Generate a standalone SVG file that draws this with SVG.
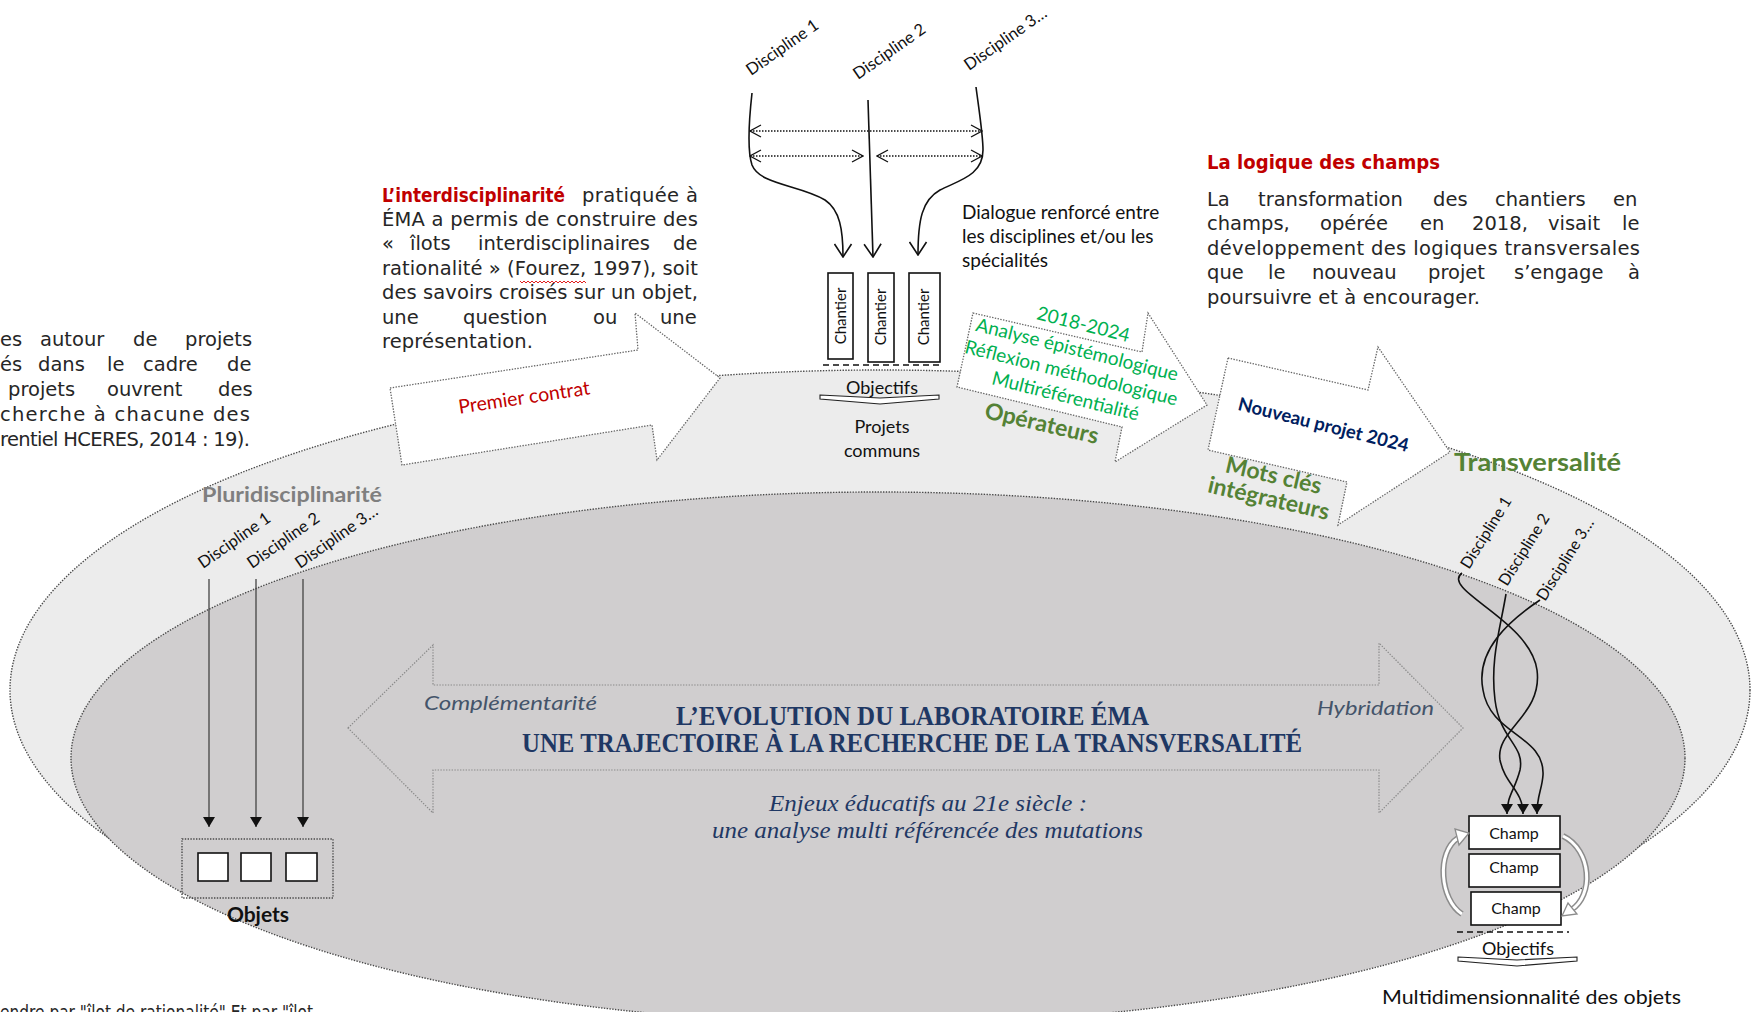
<svg xmlns="http://www.w3.org/2000/svg" width="1757" height="1012" viewBox="0 0 1757 1012">
<defs>
<style>
.dot{fill:none;stroke:#4a4a4a;stroke-width:1.4;stroke-dasharray:1.4 1.4}
.dotl{fill:none;stroke:#8a8a8a;stroke-width:1.2;stroke-dasharray:1.4 1.4}
.para{font-family:"DejaVu Sans","Liberation Sans",sans-serif;font-size:19.5px;fill:#262626}
.parab{font-family:"DejaVu Sans","Liberation Sans",sans-serif;font-size:19px;font-weight:bold;fill:#c00000}
.cal{font-family:Lato,"Open Sans",sans-serif;fill:#111}
.box{fill:#fff;stroke:#111;stroke-width:1.6}
.ln{fill:none;stroke:#111;stroke-width:1.6}
.lng{fill:none;stroke:#444;stroke-width:1.3}
.dash{fill:none;stroke:#111;stroke-width:1.6;stroke-dasharray:6 4}
.green{font-family:Lato,"Open Sans",sans-serif;font-size:19px;fill:#00b050}
.olive{font-family:Lato,"Open Sans",sans-serif;font-weight:bold;fill:#548235}
.serif{font-family:"Liberation Serif","Times New Roman",serif;fill:#1f3864}
.slate{font-family:Lato,"Open Sans",sans-serif;font-style:italic;font-size:20px;fill:#44546a}
.blk{fill:#fff;stroke:#666;stroke-width:1.3;stroke-dasharray:1.4 1.4}
.chev{fill:#fff;stroke:#222;stroke-width:1.1}
.hollow{fill:none;stroke:#8c8c8c;stroke-width:6}
.hollowin{fill:none;stroke:#fff;stroke-width:3}
</style>
<marker id="tri" viewBox="0 0 10 12" refX="10" refY="6" markerWidth="10" markerHeight="12" orient="auto" markerUnits="userSpaceOnUse">
<path d="M0,0 L10,6 L0,12z" fill="#111"/>
</marker>
<marker id="vee" viewBox="-1 -1 15 19" refX="13" refY="8.5" markerWidth="15" markerHeight="19" orient="auto" markerUnits="userSpaceOnUse">
<path d="M0,0 L13,8.5 L0,17" fill="none" stroke="#111" stroke-width="1.6"/>
</marker>
<marker id="veeS" viewBox="-1 -1 13 14" refX="11" refY="6" markerWidth="13" markerHeight="14" orient="auto-start-reverse" markerUnits="userSpaceOnUse">
<path d="M0,0 L11,6 L0,12" fill="none" stroke="#111" stroke-width="1.3"/>
</marker>
</defs>

<rect width="1757" height="1012" fill="#fff"/>

<!-- fields -->
<g id="outer-field">
<ellipse cx="880" cy="690" rx="870" ry="320" class="dot" style="fill:#ececec"/>
</g>
<g id="inner-field">
<ellipse cx="878" cy="758" rx="807" ry="266" class="dot" style="fill:#d0cecf"/>
</g>

<!-- left paragraph (cut at the page edge) -->
<g id="para-left" class="para">
<text y="346"><tspan x="0">es</tspan><tspan x="40">autour</tspan><tspan x="133">de</tspan><tspan x="185">projets</tspan></text>
<text y="371"><tspan x="0">és</tspan><tspan x="38">dans</tspan><tspan x="107">le</tspan><tspan x="143">cadre</tspan><tspan x="227">de</tspan></text>
<text y="396"><tspan x="8">projets</tspan><tspan x="107">ouvrent</tspan><tspan x="218">des</tspan></text>
<text x="0" y="421" textLength="250" lengthAdjust="spacing">cherche à chacune des</text>
<text x="0" y="446" textLength="250" lengthAdjust="spacing">rentiel HCERES, 2014 : 19).</text>
</g>

<!-- interdisciplinarity paragraph -->
<g id="para-inter" class="para">
<text x="382" y="202" class="parab" textLength="183" lengthAdjust="spacingAndGlyphs">L’interdisciplinarité</text>
<text x="582" y="202" textLength="116" lengthAdjust="spacing">pratiquée à</text>
<text x="382" y="226" textLength="316" lengthAdjust="spacing">ÉMA a permis de construire des</text>
<text y="250"><tspan x="382">«</tspan><tspan x="410">îlots</tspan><tspan x="478">interdisciplinaires</tspan><tspan x="673">de</tspan></text>
<text x="382" y="275" textLength="316" lengthAdjust="spacing">rationalité » (Fourez, 1997), soit</text>
<text x="382" y="299" textLength="316" lengthAdjust="spacing">des savoirs croisés sur un objet,</text>
<text y="324"><tspan x="382">une</tspan><tspan x="463">question</tspan><tspan x="593">ou</tspan><tspan x="660">une</tspan></text>
<text x="382" y="348" textLength="151" lengthAdjust="spacing">représentation.</text>
<polyline points="520,281 522,283 524,281 526,283 528,281 530,283 532,281 534,283 536,281 538,283 540,281 542,283 544,281 546,283 548,281 550,283 552,281 554,283 556,281 558,283 560,281 562,283 564,281 566,283 568,281 570,283 572,281 574,283 576,281 578,283 580,281 582,283 584,281 586,283" fill="none" stroke="#e02020" stroke-width="1"/>
</g>

<!-- field logic paragraph -->
<g id="para-champs" class="para">
<text x="1207" y="169" class="parab" textLength="233" lengthAdjust="spacingAndGlyphs">La logique des champs</text>
<text y="206"><tspan x="1207">La</tspan><tspan x="1258">transformation</tspan><tspan x="1433">des</tspan><tspan x="1495">chantiers</tspan><tspan x="1613">en</tspan></text>
<text y="230"><tspan x="1207">champs,</tspan><tspan x="1320">opérée</tspan><tspan x="1420">en</tspan><tspan x="1472">2018,</tspan><tspan x="1548">visait</tspan><tspan x="1622">le</tspan></text>
<text x="1207" y="255" textLength="433" lengthAdjust="spacing">développement des logiques transversales</text>
<text y="279"><tspan x="1207">que</tspan><tspan x="1268">le</tspan><tspan x="1312">nouveau</tspan><tspan x="1428">projet</tspan><tspan x="1514">s’engage</tspan><tspan x="1628">à</tspan></text>
<text x="1207" y="304" textLength="273" lengthAdjust="spacing">poursuivre et à encourager.</text>
</g>

<!-- block arrows -->
<g id="arrow-premier">
<polygon class="blk" points="390,388 638,350 635,313 720,378 657,460 652,425 402,465"/>
<text class="cal" font-size="19.5" style="fill:#c00000" text-anchor="middle" transform="translate(525,404) rotate(-8.5)">Premier contrat</text>
</g>
<g id="arrow-operateurs">
<polygon class="blk" points="973,313 1142,352 1148,313 1207,405 1115,462 1122,427 957,387"/>
<g transform="translate(1077,350) rotate(14)" text-anchor="middle" class="green">
<text y="-20">2018-2024</text>
<text y="6">Analyse épistémologique</text>
<text y="30">Réflexion méthodologique</text>
<text y="54">Multiréférentialité</text>
</g>
<text class="olive" font-size="23" text-anchor="middle" transform="translate(1040,431) rotate(13)">Opérateurs</text>
</g>
<g id="arrow-nouveau">
<polygon class="blk" points="1228,358 1368,390 1378,347 1450,452 1338,525 1347,482 1208,450"/>
<text font-family="Lato, 'Open Sans', sans-serif" font-weight="bold" font-size="18.5" fill="#002060" text-anchor="middle" transform="translate(1322,431) rotate(14)">Nouveau projet 2024</text>
<text class="olive" font-size="23" text-anchor="middle" transform="translate(1272,483) rotate(13)">Mots clés</text>
<text class="olive" font-size="23" text-anchor="middle" transform="translate(1267,506) rotate(13)">intégrateurs</text>
</g>

<!-- top: disciplines feeding the chantiers -->
<g id="disc-top" class="cal" font-size="16.5">
<text transform="translate(751,76) rotate(-35)">Discipline 1</text>
<text transform="translate(858,80) rotate(-35)">Discipline 2</text>
<text transform="translate(969,71) rotate(-35)">Discipline 3…</text>
</g>
<g id="chantiers">
<rect class="box" x="828" y="273" width="25" height="86"/>
<rect class="box" x="868" y="273" width="26" height="89"/>
<rect class="box" x="909" y="273" width="31" height="89"/>
<g class="cal" font-size="15" text-anchor="middle">
<text transform="translate(846,316) rotate(-90)">Chantier</text>
<text transform="translate(886,317) rotate(-90)">Chantier</text>
<text transform="translate(929,317) rotate(-90)">Chantier</text>
</g>
<line class="dash" x1="823" y1="365" x2="940" y2="365"/>
</g>
<g id="objectifs-top" class="cal" font-size="18" text-anchor="middle">
<text x="882" y="394">Objectifs</text>
<polygon class="chev" points="820,395 880,398 939,395 939,399 880,404 820,399"/>
<text x="882" y="433">Projets</text>
<text x="882" y="457">communs</text>
</g>
<g id="dialogue" class="cal" font-size="19">
<text x="962" y="219">Dialogue renforcé entre</text>
<text x="962" y="243">les disciplines et/ou les</text>
<text x="962" y="267">spécialités</text>
</g>

<!-- left: pluridisciplinarity -->
<g id="pluri">
<text font-family="Lato, 'Open Sans', sans-serif" font-weight="bold" font-size="21" fill="#7f7f7f" x="202" y="502" textLength="180" lengthAdjust="spacingAndGlyphs">Pluridisciplinarité</text>
<g class="cal" font-size="16.5">
<text transform="translate(203,569) rotate(-35)">Discipline 1</text>
<text transform="translate(252,569) rotate(-35)">Discipline 2</text>
<text transform="translate(300,569) rotate(-35)">Discipline 3…</text>
</g>
</g>
<g id="objets">
<rect x="182" y="839" width="151" height="59" class="dot"/>
<rect class="box" x="198" y="853" width="30" height="28"/>
<rect class="box" x="241" y="853" width="30" height="28"/>
<rect class="box" x="286" y="853" width="31" height="28"/>
<text class="cal" font-size="21" font-weight="bold" text-anchor="middle" x="258" y="922">Objets</text>
</g>

<!-- centre: double arrow and title -->
<g id="central-arrow">
<polygon class="dotl" points="348,728 433,645 433,685 1379,685 1379,643 1463,728 1379,813 1379,770 433,770 433,813"/>
<text class="slate" x="424" y="710" textLength="173" lengthAdjust="spacingAndGlyphs">Complémentarité</text>
<text class="slate" x="1317" y="715" textLength="117" lengthAdjust="spacingAndGlyphs">Hybridation</text>
</g>
<g id="title" class="serif" font-weight="bold" font-size="27">
<text x="676" y="725" textLength="473" lengthAdjust="spacingAndGlyphs">L’EVOLUTION DU LABORATOIRE ÉMA</text>
<text x="522" y="752" textLength="780" lengthAdjust="spacingAndGlyphs">UNE TRAJECTOIRE À LA RECHERCHE DE LA TRANSVERSALITÉ</text>
</g>
<g id="subtitle" class="serif" font-style="italic" font-size="24">
<text x="769" y="811" textLength="318" lengthAdjust="spacingAndGlyphs">Enjeux éducatifs au 21e siècle :</text>
<text x="712" y="838" textLength="431" lengthAdjust="spacingAndGlyphs">une analyse multi référencée des mutations</text>
</g>

<!-- right: transversality -->
<g id="transversalite">
<text class="olive" font-size="24" x="1454" y="471" textLength="167" lengthAdjust="spacingAndGlyphs">Transversalité</text>
<g class="cal" font-size="16">
<text transform="translate(1469,570) rotate(-58)">Discipline 1</text>
<text transform="translate(1507,587) rotate(-58)">Discipline 2</text>
<text transform="translate(1545,602) rotate(-58)">Discipline 3…</text>
</g>
</g>
<g id="champs">
<rect class="box" x="1469" y="816" width="91" height="33"/>
<rect class="box" x="1469" y="854" width="91" height="33"/>
<rect class="box" x="1471" y="892" width="90" height="33"/>
<g class="cal" font-size="16" text-anchor="middle">
<text x="1514" y="839">Champ</text>
<text x="1514" y="873">Champ</text>
<text x="1516" y="914">Champ</text>
</g>
<line class="dash" x1="1457" y1="932" x2="1569" y2="932"/>
<text class="cal" font-size="18" text-anchor="middle" x="1518" y="955">Objectifs</text>
<polygon class="chev" points="1458,957 1517,960 1577,957 1577,961 1517,966 1458,961"/>
<text class="cal" font-size="19" x="1382" y="1004" textLength="299" lengthAdjust="spacingAndGlyphs">Multidimensionnalité des objets</text>
<!-- rotation between fields -->
<path class="hollow" d="M1462,914 C1440,900 1436,852 1458,838"/>
<path class="hollowin" d="M1462,914 C1440,900 1436,852 1458,838"/>
<polygon points="1469,833 1455,829 1459,845" fill="#fff" stroke="#8c8c8c" stroke-width="1.3"/>
<path class="hollow" d="M1563,836 C1592,850 1594,896 1571,910"/>
<path class="hollowin" d="M1563,836 C1592,850 1594,896 1571,910"/>
<polygon points="1562,916 1568,903 1577,914" fill="#fff" stroke="#8c8c8c" stroke-width="1.3"/>
</g>

<!-- bottom note, cut by the page edge -->
<text class="para" font-size="17" x="0" y="1019" textLength="313" lengthAdjust="spacingAndGlyphs">endre par "îlot de rationalité" Et par "îlot</text>

<!-- connectors -->
<g id="connectors">
<path class="ln" d="M752,93 C749,120 747,150 752,165 C760,185 800,185 825,200 C840,210 843,230 843,257" marker-end="url(#vee)"/>
<path class="ln" d="M868,100 L873,257" marker-end="url(#vee)"/>
<path class="ln" d="M976,87 C979,110 983,135 983,150 C983,175 960,180 940,190 C922,200 918,220 918,255" marker-end="url(#vee)"/>
<line x1="750" y1="131" x2="982" y2="131" stroke="#111" stroke-width="1.3" stroke-dasharray="1.5 1.5" marker-start="url(#veeS)" marker-end="url(#veeS)"/>
<line x1="750" y1="156" x2="863" y2="156" stroke="#111" stroke-width="1.3" stroke-dasharray="1.5 1.5" marker-start="url(#veeS)" marker-end="url(#veeS)"/>
<line x1="877" y1="156" x2="982" y2="156" stroke="#111" stroke-width="1.3" stroke-dasharray="1.5 1.5" marker-start="url(#veeS)" marker-end="url(#veeS)"/>
<line class="lng" x1="209" y1="579" x2="209" y2="827" marker-end="url(#tri)"/>
<line class="lng" x1="256" y1="579" x2="256" y2="827" marker-end="url(#tri)"/>
<line class="lng" x1="303" y1="579" x2="303" y2="827" marker-end="url(#tri)"/>
<path class="ln" d="M1462,573 C1440,590 1530,620 1537,670 C1543,715 1495,730 1500,760 C1505,785 1523,790 1523,814" marker-end="url(#tri)"/>
<path class="ln" d="M1506,594 C1500,630 1490,660 1495,700 C1500,740 1525,745 1520,770 C1515,790 1507,795 1507,814" marker-end="url(#tri)"/>
<path class="ln" d="M1540,600 C1510,620 1475,650 1483,690 C1490,735 1545,735 1543,775 C1542,790 1537,795 1537,814" marker-end="url(#tri)"/>
</g>
</svg>
